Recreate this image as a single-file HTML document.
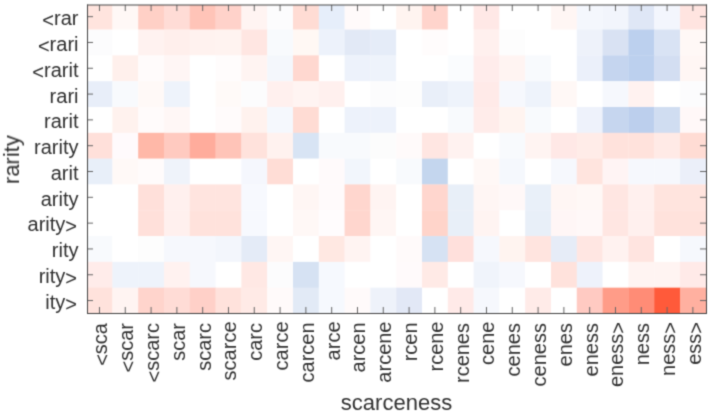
<!DOCTYPE html><html><head><meta charset="utf-8"><style>html,body{margin:0;padding:0;background:#fff;width:712px;height:413px;overflow:hidden}svg{display:block}text{font-family:"Liberation Sans",sans-serif;fill:#303030}</style></head><body>
<svg width="712" height="413" viewBox="0 0 712 413">
<defs><filter id="bl" x="0" y="0" width="712" height="413" filterUnits="userSpaceOnUse" color-interpolation-filters="sRGB"><feConvolveMatrix order="3" kernelMatrix="1 4 1 4 16 4 1 4 1" divisor="36" edgeMode="duplicate"/></filter></defs><g filter="url(#bl)">
<rect width="712" height="413" fill="#fff"/>
<clipPath id="cp"><rect x="87" y="5" width="620" height="309"/></clipPath><g clip-path="url(#cp)">
<rect x="86.58" y="3.75" width="26.10" height="26.11" fill="#ffe4de"/>
<rect x="112.38" y="3.75" width="26.10" height="26.11" fill="#fff8f6"/>
<rect x="138.18" y="3.75" width="26.10" height="26.11" fill="#ffd0c6"/>
<rect x="163.98" y="3.75" width="26.10" height="26.11" fill="#ffdcd6"/>
<rect x="189.78" y="3.75" width="26.10" height="26.11" fill="#ffc4b8"/>
<rect x="215.58" y="3.75" width="26.10" height="26.11" fill="#ffd2ca"/>
<rect x="241.38" y="3.75" width="26.10" height="26.11" fill="#fff4f2"/>
<rect x="267.18" y="3.75" width="26.10" height="26.11" fill="#fcfcfd"/>
<rect x="292.98" y="3.75" width="26.10" height="26.11" fill="#ffdcd4"/>
<rect x="318.78" y="3.75" width="26.10" height="26.11" fill="#e6eefa"/>
<rect x="344.58" y="3.75" width="26.10" height="26.11" fill="#fffafa"/>
<rect x="370.38" y="3.75" width="26.10" height="26.11" fill="#ffffff"/>
<rect x="396.18" y="3.75" width="26.10" height="26.11" fill="#fff4f0"/>
<rect x="421.98" y="3.75" width="26.10" height="26.11" fill="#ffd4cc"/>
<rect x="447.78" y="3.75" width="26.10" height="26.11" fill="#ffffff"/>
<rect x="473.58" y="3.75" width="26.10" height="26.11" fill="#ffe8e6"/>
<rect x="499.38" y="3.75" width="26.10" height="26.11" fill="#ffffff"/>
<rect x="525.18" y="3.75" width="26.10" height="26.11" fill="#ffffff"/>
<rect x="550.98" y="3.75" width="26.10" height="26.11" fill="#fff6f4"/>
<rect x="576.78" y="3.75" width="26.10" height="26.11" fill="#f4f7fd"/>
<rect x="602.58" y="3.75" width="26.10" height="26.11" fill="#f2f5fc"/>
<rect x="628.38" y="3.75" width="26.10" height="26.11" fill="#dfe7f6"/>
<rect x="654.18" y="3.75" width="26.10" height="26.11" fill="#f3f6fd"/>
<rect x="679.98" y="3.75" width="26.10" height="26.11" fill="#ffe4e0"/>
<rect x="86.58" y="29.56" width="26.10" height="26.11" fill="#fcfcfd"/>
<rect x="112.38" y="29.56" width="26.10" height="26.11" fill="#ffffff"/>
<rect x="138.18" y="29.56" width="26.10" height="26.11" fill="#fff2f0"/>
<rect x="163.98" y="29.56" width="26.10" height="26.11" fill="#ffefec"/>
<rect x="189.78" y="29.56" width="26.10" height="26.11" fill="#fff2ef"/>
<rect x="215.58" y="29.56" width="26.10" height="26.11" fill="#fff3f0"/>
<rect x="241.38" y="29.56" width="26.10" height="26.11" fill="#ffe6e2"/>
<rect x="267.18" y="29.56" width="26.10" height="26.11" fill="#f8fafd"/>
<rect x="292.98" y="29.56" width="26.10" height="26.11" fill="#fff8f4"/>
<rect x="318.78" y="29.56" width="26.10" height="26.11" fill="#edf2fb"/>
<rect x="344.58" y="29.56" width="26.10" height="26.11" fill="#e2e9f6"/>
<rect x="370.38" y="29.56" width="26.10" height="26.11" fill="#e5ecf8"/>
<rect x="396.18" y="29.56" width="26.10" height="26.11" fill="#ffffff"/>
<rect x="421.98" y="29.56" width="26.10" height="26.11" fill="#fffcfc"/>
<rect x="447.78" y="29.56" width="26.10" height="26.11" fill="#ffffff"/>
<rect x="473.58" y="29.56" width="26.10" height="26.11" fill="#fff0ee"/>
<rect x="499.38" y="29.56" width="26.10" height="26.11" fill="#fdfdfd"/>
<rect x="525.18" y="29.56" width="26.10" height="26.11" fill="#ffffff"/>
<rect x="550.98" y="29.56" width="26.10" height="26.11" fill="#ffffff"/>
<rect x="576.78" y="29.56" width="26.10" height="26.11" fill="#eef2fa"/>
<rect x="602.58" y="29.56" width="26.10" height="26.11" fill="#d9e2f3"/>
<rect x="628.38" y="29.56" width="26.10" height="26.11" fill="#bcd0ee"/>
<rect x="654.18" y="29.56" width="26.10" height="26.11" fill="#d9e3f4"/>
<rect x="679.98" y="29.56" width="26.10" height="26.11" fill="#fff8f6"/>
<rect x="86.58" y="55.37" width="26.10" height="26.11" fill="#ffffff"/>
<rect x="112.38" y="55.37" width="26.10" height="26.11" fill="#fff0ec"/>
<rect x="138.18" y="55.37" width="26.10" height="26.11" fill="#fffbfb"/>
<rect x="163.98" y="55.37" width="26.10" height="26.11" fill="#fff6f5"/>
<rect x="189.78" y="55.37" width="26.10" height="26.11" fill="#ffffff"/>
<rect x="215.58" y="55.37" width="26.10" height="26.11" fill="#fffcfc"/>
<rect x="241.38" y="55.37" width="26.10" height="26.11" fill="#fff4f2"/>
<rect x="267.18" y="55.37" width="26.10" height="26.11" fill="#f4f7fc"/>
<rect x="292.98" y="55.37" width="26.10" height="26.11" fill="#ffd8d0"/>
<rect x="318.78" y="55.37" width="26.10" height="26.11" fill="#ffffff"/>
<rect x="344.58" y="55.37" width="26.10" height="26.11" fill="#edf2fb"/>
<rect x="370.38" y="55.37" width="26.10" height="26.11" fill="#eef3fb"/>
<rect x="396.18" y="55.37" width="26.10" height="26.11" fill="#ffffff"/>
<rect x="421.98" y="55.37" width="26.10" height="26.11" fill="#ffffff"/>
<rect x="447.78" y="55.37" width="26.10" height="26.11" fill="#fafcfe"/>
<rect x="473.58" y="55.37" width="26.10" height="26.11" fill="#ffeceb"/>
<rect x="499.38" y="55.37" width="26.10" height="26.11" fill="#fff4f2"/>
<rect x="525.18" y="55.37" width="26.10" height="26.11" fill="#f8fafd"/>
<rect x="550.98" y="55.37" width="26.10" height="26.11" fill="#ffffff"/>
<rect x="576.78" y="55.37" width="26.10" height="26.11" fill="#ebf0fa"/>
<rect x="602.58" y="55.37" width="26.10" height="26.11" fill="#c5d5ef"/>
<rect x="628.38" y="55.37" width="26.10" height="26.11" fill="#bcd0ee"/>
<rect x="654.18" y="55.37" width="26.10" height="26.11" fill="#d3def2"/>
<rect x="679.98" y="55.37" width="26.10" height="26.11" fill="#fff6f4"/>
<rect x="86.58" y="81.18" width="26.10" height="26.11" fill="#e8eef9"/>
<rect x="112.38" y="81.18" width="26.10" height="26.11" fill="#f8fafd"/>
<rect x="138.18" y="81.18" width="26.10" height="26.11" fill="#fff9f7"/>
<rect x="163.98" y="81.18" width="26.10" height="26.11" fill="#eef3fb"/>
<rect x="189.78" y="81.18" width="26.10" height="26.11" fill="#ffffff"/>
<rect x="215.58" y="81.18" width="26.10" height="26.11" fill="#fffaf8"/>
<rect x="241.38" y="81.18" width="26.10" height="26.11" fill="#fcfcfd"/>
<rect x="267.18" y="81.18" width="26.10" height="26.11" fill="#fff0ee"/>
<rect x="292.98" y="81.18" width="26.10" height="26.11" fill="#fff4f2"/>
<rect x="318.78" y="81.18" width="26.10" height="26.11" fill="#fff0ee"/>
<rect x="344.58" y="81.18" width="26.10" height="26.11" fill="#ffffff"/>
<rect x="370.38" y="81.18" width="26.10" height="26.11" fill="#fcfcfd"/>
<rect x="396.18" y="81.18" width="26.10" height="26.11" fill="#fdfdfd"/>
<rect x="421.98" y="81.18" width="26.10" height="26.11" fill="#e9eff9"/>
<rect x="447.78" y="81.18" width="26.10" height="26.11" fill="#eef3fb"/>
<rect x="473.58" y="81.18" width="26.10" height="26.11" fill="#ffeae8"/>
<rect x="499.38" y="81.18" width="26.10" height="26.11" fill="#f6f8fd"/>
<rect x="525.18" y="81.18" width="26.10" height="26.11" fill="#eef3fb"/>
<rect x="550.98" y="81.18" width="26.10" height="26.11" fill="#fff8f6"/>
<rect x="576.78" y="81.18" width="26.10" height="26.11" fill="#ffffff"/>
<rect x="602.58" y="81.18" width="26.10" height="26.11" fill="#f6f8fd"/>
<rect x="628.38" y="81.18" width="26.10" height="26.11" fill="#fff2f0"/>
<rect x="654.18" y="81.18" width="26.10" height="26.11" fill="#ffffff"/>
<rect x="679.98" y="81.18" width="26.10" height="26.11" fill="#fcfcfd"/>
<rect x="86.58" y="106.99" width="26.10" height="26.11" fill="#ffffff"/>
<rect x="112.38" y="106.99" width="26.10" height="26.11" fill="#fff2ee"/>
<rect x="138.18" y="106.99" width="26.10" height="26.11" fill="#fffbfb"/>
<rect x="163.98" y="106.99" width="26.10" height="26.11" fill="#fff7f6"/>
<rect x="189.78" y="106.99" width="26.10" height="26.11" fill="#ffffff"/>
<rect x="215.58" y="106.99" width="26.10" height="26.11" fill="#fffbfb"/>
<rect x="241.38" y="106.99" width="26.10" height="26.11" fill="#fff2ee"/>
<rect x="267.18" y="106.99" width="26.10" height="26.11" fill="#f5f8fd"/>
<rect x="292.98" y="106.99" width="26.10" height="26.11" fill="#ffdcd4"/>
<rect x="318.78" y="106.99" width="26.10" height="26.11" fill="#ffffff"/>
<rect x="344.58" y="106.99" width="26.10" height="26.11" fill="#edf2fb"/>
<rect x="370.38" y="106.99" width="26.10" height="26.11" fill="#edf2fb"/>
<rect x="396.18" y="106.99" width="26.10" height="26.11" fill="#ffffff"/>
<rect x="421.98" y="106.99" width="26.10" height="26.11" fill="#ffffff"/>
<rect x="447.78" y="106.99" width="26.10" height="26.11" fill="#f8fafd"/>
<rect x="473.58" y="106.99" width="26.10" height="26.11" fill="#ffecea"/>
<rect x="499.38" y="106.99" width="26.10" height="26.11" fill="#fff4f0"/>
<rect x="525.18" y="106.99" width="26.10" height="26.11" fill="#f8fafd"/>
<rect x="550.98" y="106.99" width="26.10" height="26.11" fill="#ffffff"/>
<rect x="576.78" y="106.99" width="26.10" height="26.11" fill="#eef2fb"/>
<rect x="602.58" y="106.99" width="26.10" height="26.11" fill="#c6d6ef"/>
<rect x="628.38" y="106.99" width="26.10" height="26.11" fill="#bccfed"/>
<rect x="654.18" y="106.99" width="26.10" height="26.11" fill="#d0ddf1"/>
<rect x="679.98" y="106.99" width="26.10" height="26.11" fill="#fff8f8"/>
<rect x="86.58" y="132.80" width="26.10" height="26.11" fill="#ffe0da"/>
<rect x="112.38" y="132.80" width="26.10" height="26.11" fill="#fffafc"/>
<rect x="138.18" y="132.80" width="26.10" height="26.11" fill="#ffb8a8"/>
<rect x="163.98" y="132.80" width="26.10" height="26.11" fill="#ffcac0"/>
<rect x="189.78" y="132.80" width="26.10" height="26.11" fill="#ffac9c"/>
<rect x="215.58" y="132.80" width="26.10" height="26.11" fill="#ffc4b8"/>
<rect x="241.38" y="132.80" width="26.10" height="26.11" fill="#ffe2dc"/>
<rect x="267.18" y="132.80" width="26.10" height="26.11" fill="#fff2ef"/>
<rect x="292.98" y="132.80" width="26.10" height="26.11" fill="#d8e4f4"/>
<rect x="318.78" y="132.80" width="26.10" height="26.11" fill="#f8fafd"/>
<rect x="344.58" y="132.80" width="26.10" height="26.11" fill="#f8fafd"/>
<rect x="370.38" y="132.80" width="26.10" height="26.11" fill="#fcfcfc"/>
<rect x="396.18" y="132.80" width="26.10" height="26.11" fill="#fffafa"/>
<rect x="421.98" y="132.80" width="26.10" height="26.11" fill="#ffe6e2"/>
<rect x="447.78" y="132.80" width="26.10" height="26.11" fill="#fff2f0"/>
<rect x="473.58" y="132.80" width="26.10" height="26.11" fill="#ffffff"/>
<rect x="499.38" y="132.80" width="26.10" height="26.11" fill="#f8fafd"/>
<rect x="525.18" y="132.80" width="26.10" height="26.11" fill="#fff4f2"/>
<rect x="550.98" y="132.80" width="26.10" height="26.11" fill="#ffe8e6"/>
<rect x="576.78" y="132.80" width="26.10" height="26.11" fill="#ffece8"/>
<rect x="602.58" y="132.80" width="26.10" height="26.11" fill="#ffe2dc"/>
<rect x="628.38" y="132.80" width="26.10" height="26.11" fill="#ffe2dc"/>
<rect x="654.18" y="132.80" width="26.10" height="26.11" fill="#ffeae6"/>
<rect x="679.98" y="132.80" width="26.10" height="26.11" fill="#ffdcd4"/>
<rect x="86.58" y="158.61" width="26.10" height="26.11" fill="#e8eff9"/>
<rect x="112.38" y="158.61" width="26.10" height="26.11" fill="#fff9f7"/>
<rect x="138.18" y="158.61" width="26.10" height="26.11" fill="#fffbfb"/>
<rect x="163.98" y="158.61" width="26.10" height="26.11" fill="#eff3fa"/>
<rect x="189.78" y="158.61" width="26.10" height="26.11" fill="#ffffff"/>
<rect x="215.58" y="158.61" width="26.10" height="26.11" fill="#ffffff"/>
<rect x="241.38" y="158.61" width="26.10" height="26.11" fill="#f5f7fd"/>
<rect x="267.18" y="158.61" width="26.10" height="26.11" fill="#ffddd6"/>
<rect x="292.98" y="158.61" width="26.10" height="26.11" fill="#ffffff"/>
<rect x="318.78" y="158.61" width="26.10" height="26.11" fill="#fffafb"/>
<rect x="344.58" y="158.61" width="26.10" height="26.11" fill="#f2f6fc"/>
<rect x="370.38" y="158.61" width="26.10" height="26.11" fill="#ffffff"/>
<rect x="396.18" y="158.61" width="26.10" height="26.11" fill="#f8fafd"/>
<rect x="421.98" y="158.61" width="26.10" height="26.11" fill="#c4d6ee"/>
<rect x="447.78" y="158.61" width="26.10" height="26.11" fill="#ffffff"/>
<rect x="473.58" y="158.61" width="26.10" height="26.11" fill="#fff8f6"/>
<rect x="499.38" y="158.61" width="26.10" height="26.11" fill="#f5f8fd"/>
<rect x="525.18" y="158.61" width="26.10" height="26.11" fill="#ffffff"/>
<rect x="550.98" y="158.61" width="26.10" height="26.11" fill="#f6f8fd"/>
<rect x="576.78" y="158.61" width="26.10" height="26.11" fill="#ffe4de"/>
<rect x="602.58" y="158.61" width="26.10" height="26.11" fill="#fff4f4"/>
<rect x="628.38" y="158.61" width="26.10" height="26.11" fill="#f6f8fd"/>
<rect x="654.18" y="158.61" width="26.10" height="26.11" fill="#f6f8fd"/>
<rect x="679.98" y="158.61" width="26.10" height="26.11" fill="#ebeff9"/>
<rect x="86.58" y="184.42" width="26.10" height="26.11" fill="#ffffff"/>
<rect x="112.38" y="184.42" width="26.10" height="26.11" fill="#ffffff"/>
<rect x="138.18" y="184.42" width="26.10" height="26.11" fill="#ffe0da"/>
<rect x="163.98" y="184.42" width="26.10" height="26.11" fill="#fff0ee"/>
<rect x="189.78" y="184.42" width="26.10" height="26.11" fill="#ffe4df"/>
<rect x="215.58" y="184.42" width="26.10" height="26.11" fill="#ffe4df"/>
<rect x="241.38" y="184.42" width="26.10" height="26.11" fill="#f7f9fe"/>
<rect x="267.18" y="184.42" width="26.10" height="26.11" fill="#ffffff"/>
<rect x="292.98" y="184.42" width="26.10" height="26.11" fill="#fff6f4"/>
<rect x="318.78" y="184.42" width="26.10" height="26.11" fill="#fffafb"/>
<rect x="344.58" y="184.42" width="26.10" height="26.11" fill="#ffd6ce"/>
<rect x="370.38" y="184.42" width="26.10" height="26.11" fill="#fff4f2"/>
<rect x="396.18" y="184.42" width="26.10" height="26.11" fill="#ffffff"/>
<rect x="421.98" y="184.42" width="26.10" height="26.11" fill="#ffd6ce"/>
<rect x="447.78" y="184.42" width="26.10" height="26.11" fill="#e8eff8"/>
<rect x="473.58" y="184.42" width="26.10" height="26.11" fill="#fff6f4"/>
<rect x="499.38" y="184.42" width="26.10" height="26.11" fill="#fff8f8"/>
<rect x="525.18" y="184.42" width="26.10" height="26.11" fill="#e9f0f9"/>
<rect x="550.98" y="184.42" width="26.10" height="26.11" fill="#fff6f4"/>
<rect x="576.78" y="184.42" width="26.10" height="26.11" fill="#fff8f6"/>
<rect x="602.58" y="184.42" width="26.10" height="26.11" fill="#ffe6e2"/>
<rect x="628.38" y="184.42" width="26.10" height="26.11" fill="#fff0ee"/>
<rect x="654.18" y="184.42" width="26.10" height="26.11" fill="#ffe4de"/>
<rect x="679.98" y="184.42" width="26.10" height="26.11" fill="#ffe4de"/>
<rect x="86.58" y="210.23" width="26.10" height="26.11" fill="#ffffff"/>
<rect x="112.38" y="210.23" width="26.10" height="26.11" fill="#ffffff"/>
<rect x="138.18" y="210.23" width="26.10" height="26.11" fill="#ffe0da"/>
<rect x="163.98" y="210.23" width="26.10" height="26.11" fill="#fff0ee"/>
<rect x="189.78" y="210.23" width="26.10" height="26.11" fill="#ffe2dc"/>
<rect x="215.58" y="210.23" width="26.10" height="26.11" fill="#ffe2dc"/>
<rect x="241.38" y="210.23" width="26.10" height="26.11" fill="#f7f9fe"/>
<rect x="267.18" y="210.23" width="26.10" height="26.11" fill="#ffffff"/>
<rect x="292.98" y="210.23" width="26.10" height="26.11" fill="#fff8f6"/>
<rect x="318.78" y="210.23" width="26.10" height="26.11" fill="#fffcfd"/>
<rect x="344.58" y="210.23" width="26.10" height="26.11" fill="#ffd6ce"/>
<rect x="370.38" y="210.23" width="26.10" height="26.11" fill="#fff6f4"/>
<rect x="396.18" y="210.23" width="26.10" height="26.11" fill="#ffffff"/>
<rect x="421.98" y="210.23" width="26.10" height="26.11" fill="#ffd4ca"/>
<rect x="447.78" y="210.23" width="26.10" height="26.11" fill="#e8eff8"/>
<rect x="473.58" y="210.23" width="26.10" height="26.11" fill="#fff4f2"/>
<rect x="499.38" y="210.23" width="26.10" height="26.11" fill="#ffffff"/>
<rect x="525.18" y="210.23" width="26.10" height="26.11" fill="#e8eff8"/>
<rect x="550.98" y="210.23" width="26.10" height="26.11" fill="#fff6f6"/>
<rect x="576.78" y="210.23" width="26.10" height="26.11" fill="#fff8f8"/>
<rect x="602.58" y="210.23" width="26.10" height="26.11" fill="#ffe6e2"/>
<rect x="628.38" y="210.23" width="26.10" height="26.11" fill="#fff0ee"/>
<rect x="654.18" y="210.23" width="26.10" height="26.11" fill="#ffe2dc"/>
<rect x="679.98" y="210.23" width="26.10" height="26.11" fill="#ffe2dc"/>
<rect x="86.58" y="236.04" width="26.10" height="26.11" fill="#f8fafd"/>
<rect x="112.38" y="236.04" width="26.10" height="26.11" fill="#ffffff"/>
<rect x="138.18" y="236.04" width="26.10" height="26.11" fill="#fdfdfd"/>
<rect x="163.98" y="236.04" width="26.10" height="26.11" fill="#f6f8fd"/>
<rect x="189.78" y="236.04" width="26.10" height="26.11" fill="#f6f8fd"/>
<rect x="215.58" y="236.04" width="26.10" height="26.11" fill="#f3f6fc"/>
<rect x="241.38" y="236.04" width="26.10" height="26.11" fill="#e4ebf7"/>
<rect x="267.18" y="236.04" width="26.10" height="26.11" fill="#fff6f4"/>
<rect x="292.98" y="236.04" width="26.10" height="26.11" fill="#ffffff"/>
<rect x="318.78" y="236.04" width="26.10" height="26.11" fill="#ffe8e2"/>
<rect x="344.58" y="236.04" width="26.10" height="26.11" fill="#fff4f2"/>
<rect x="370.38" y="236.04" width="26.10" height="26.11" fill="#ffffff"/>
<rect x="396.18" y="236.04" width="26.10" height="26.11" fill="#fffafa"/>
<rect x="421.98" y="236.04" width="26.10" height="26.11" fill="#d6e2f3"/>
<rect x="447.78" y="236.04" width="26.10" height="26.11" fill="#ffe0dc"/>
<rect x="473.58" y="236.04" width="26.10" height="26.11" fill="#f6f8fd"/>
<rect x="499.38" y="236.04" width="26.10" height="26.11" fill="#fff4f0"/>
<rect x="525.18" y="236.04" width="26.10" height="26.11" fill="#ffe4df"/>
<rect x="550.98" y="236.04" width="26.10" height="26.11" fill="#e6ecf7"/>
<rect x="576.78" y="236.04" width="26.10" height="26.11" fill="#ffe6e2"/>
<rect x="602.58" y="236.04" width="26.10" height="26.11" fill="#fff2f0"/>
<rect x="628.38" y="236.04" width="26.10" height="26.11" fill="#ffe4e0"/>
<rect x="654.18" y="236.04" width="26.10" height="26.11" fill="#ffffff"/>
<rect x="679.98" y="236.04" width="26.10" height="26.11" fill="#f6f8fd"/>
<rect x="86.58" y="261.85" width="26.10" height="26.11" fill="#ffecea"/>
<rect x="112.38" y="261.85" width="26.10" height="26.11" fill="#eef3fb"/>
<rect x="138.18" y="261.85" width="26.10" height="26.11" fill="#eef3fb"/>
<rect x="163.98" y="261.85" width="26.10" height="26.11" fill="#fff2f0"/>
<rect x="189.78" y="261.85" width="26.10" height="26.11" fill="#f6f8fd"/>
<rect x="215.58" y="261.85" width="26.10" height="26.11" fill="#ffffff"/>
<rect x="241.38" y="261.85" width="26.10" height="26.11" fill="#ffe8e4"/>
<rect x="267.18" y="261.85" width="26.10" height="26.11" fill="#fcfcfd"/>
<rect x="292.98" y="261.85" width="26.10" height="26.11" fill="#d6e2f3"/>
<rect x="318.78" y="261.85" width="26.10" height="26.11" fill="#f6f9fe"/>
<rect x="344.58" y="261.85" width="26.10" height="26.11" fill="#ffffff"/>
<rect x="370.38" y="261.85" width="26.10" height="26.11" fill="#ffffff"/>
<rect x="396.18" y="261.85" width="26.10" height="26.11" fill="#fffafb"/>
<rect x="421.98" y="261.85" width="26.10" height="26.11" fill="#ffeae6"/>
<rect x="447.78" y="261.85" width="26.10" height="26.11" fill="#ffffff"/>
<rect x="473.58" y="261.85" width="26.10" height="26.11" fill="#f0f4fb"/>
<rect x="499.38" y="261.85" width="26.10" height="26.11" fill="#f6f8fd"/>
<rect x="525.18" y="261.85" width="26.10" height="26.11" fill="#ffffff"/>
<rect x="550.98" y="261.85" width="26.10" height="26.11" fill="#ffe2dc"/>
<rect x="576.78" y="261.85" width="26.10" height="26.11" fill="#eef2fb"/>
<rect x="602.58" y="261.85" width="26.10" height="26.11" fill="#ffffff"/>
<rect x="628.38" y="261.85" width="26.10" height="26.11" fill="#fff4f2"/>
<rect x="654.18" y="261.85" width="26.10" height="26.11" fill="#fff4f2"/>
<rect x="679.98" y="261.85" width="26.10" height="26.11" fill="#ffeae8"/>
<rect x="86.58" y="287.66" width="26.10" height="26.11" fill="#ffe2dc"/>
<rect x="112.38" y="287.66" width="26.10" height="26.11" fill="#fff4f2"/>
<rect x="138.18" y="287.66" width="26.10" height="26.11" fill="#ffd4cc"/>
<rect x="163.98" y="287.66" width="26.10" height="26.11" fill="#ffdcd6"/>
<rect x="189.78" y="287.66" width="26.10" height="26.11" fill="#ffd0c8"/>
<rect x="215.58" y="287.66" width="26.10" height="26.11" fill="#ffe2dc"/>
<rect x="241.38" y="287.66" width="26.10" height="26.11" fill="#ffeae6"/>
<rect x="267.18" y="287.66" width="26.10" height="26.11" fill="#fffafa"/>
<rect x="292.98" y="287.66" width="26.10" height="26.11" fill="#e2eaf6"/>
<rect x="318.78" y="287.66" width="26.10" height="26.11" fill="#f6f9fe"/>
<rect x="344.58" y="287.66" width="26.10" height="26.11" fill="#fffafa"/>
<rect x="370.38" y="287.66" width="26.10" height="26.11" fill="#eef2fa"/>
<rect x="396.18" y="287.66" width="26.10" height="26.11" fill="#e2e8f6"/>
<rect x="421.98" y="287.66" width="26.10" height="26.11" fill="#ffffff"/>
<rect x="447.78" y="287.66" width="26.10" height="26.11" fill="#ffeae8"/>
<rect x="473.58" y="287.66" width="26.10" height="26.11" fill="#f6f8fd"/>
<rect x="499.38" y="287.66" width="26.10" height="26.11" fill="#ffffff"/>
<rect x="525.18" y="287.66" width="26.10" height="26.11" fill="#ffebe8"/>
<rect x="550.98" y="287.66" width="26.10" height="26.11" fill="#ffffff"/>
<rect x="576.78" y="287.66" width="26.10" height="26.11" fill="#ffcac2"/>
<rect x="602.58" y="287.66" width="26.10" height="26.11" fill="#ff9c88"/>
<rect x="628.38" y="287.66" width="26.10" height="26.11" fill="#ff8c76"/>
<rect x="654.18" y="287.66" width="26.10" height="26.11" fill="#ff5a3a"/>
<rect x="679.98" y="287.66" width="26.10" height="26.11" fill="#ffb0a0"/>
</g>
<line x1="99.48" y1="5" x2="99.48" y2="11" stroke="#666" stroke-width="1"/>
<line x1="99.48" y1="313" x2="99.48" y2="307" stroke="#666" stroke-width="1"/>
<line x1="125.28" y1="5" x2="125.28" y2="11" stroke="#666" stroke-width="1"/>
<line x1="125.28" y1="313" x2="125.28" y2="307" stroke="#666" stroke-width="1"/>
<line x1="151.08" y1="5" x2="151.08" y2="11" stroke="#666" stroke-width="1"/>
<line x1="151.08" y1="313" x2="151.08" y2="307" stroke="#666" stroke-width="1"/>
<line x1="176.88" y1="5" x2="176.88" y2="11" stroke="#666" stroke-width="1"/>
<line x1="176.88" y1="313" x2="176.88" y2="307" stroke="#666" stroke-width="1"/>
<line x1="202.68" y1="5" x2="202.68" y2="11" stroke="#666" stroke-width="1"/>
<line x1="202.68" y1="313" x2="202.68" y2="307" stroke="#666" stroke-width="1"/>
<line x1="228.48" y1="5" x2="228.48" y2="11" stroke="#666" stroke-width="1"/>
<line x1="228.48" y1="313" x2="228.48" y2="307" stroke="#666" stroke-width="1"/>
<line x1="254.28" y1="5" x2="254.28" y2="11" stroke="#666" stroke-width="1"/>
<line x1="254.28" y1="313" x2="254.28" y2="307" stroke="#666" stroke-width="1"/>
<line x1="280.08" y1="5" x2="280.08" y2="11" stroke="#666" stroke-width="1"/>
<line x1="280.08" y1="313" x2="280.08" y2="307" stroke="#666" stroke-width="1"/>
<line x1="305.88" y1="5" x2="305.88" y2="11" stroke="#666" stroke-width="1"/>
<line x1="305.88" y1="313" x2="305.88" y2="307" stroke="#666" stroke-width="1"/>
<line x1="331.68" y1="5" x2="331.68" y2="11" stroke="#666" stroke-width="1"/>
<line x1="331.68" y1="313" x2="331.68" y2="307" stroke="#666" stroke-width="1"/>
<line x1="357.48" y1="5" x2="357.48" y2="11" stroke="#666" stroke-width="1"/>
<line x1="357.48" y1="313" x2="357.48" y2="307" stroke="#666" stroke-width="1"/>
<line x1="383.28" y1="5" x2="383.28" y2="11" stroke="#666" stroke-width="1"/>
<line x1="383.28" y1="313" x2="383.28" y2="307" stroke="#666" stroke-width="1"/>
<line x1="409.08" y1="5" x2="409.08" y2="11" stroke="#666" stroke-width="1"/>
<line x1="409.08" y1="313" x2="409.08" y2="307" stroke="#666" stroke-width="1"/>
<line x1="434.88" y1="5" x2="434.88" y2="11" stroke="#666" stroke-width="1"/>
<line x1="434.88" y1="313" x2="434.88" y2="307" stroke="#666" stroke-width="1"/>
<line x1="460.68" y1="5" x2="460.68" y2="11" stroke="#666" stroke-width="1"/>
<line x1="460.68" y1="313" x2="460.68" y2="307" stroke="#666" stroke-width="1"/>
<line x1="486.48" y1="5" x2="486.48" y2="11" stroke="#666" stroke-width="1"/>
<line x1="486.48" y1="313" x2="486.48" y2="307" stroke="#666" stroke-width="1"/>
<line x1="512.28" y1="5" x2="512.28" y2="11" stroke="#666" stroke-width="1"/>
<line x1="512.28" y1="313" x2="512.28" y2="307" stroke="#666" stroke-width="1"/>
<line x1="538.08" y1="5" x2="538.08" y2="11" stroke="#666" stroke-width="1"/>
<line x1="538.08" y1="313" x2="538.08" y2="307" stroke="#666" stroke-width="1"/>
<line x1="563.88" y1="5" x2="563.88" y2="11" stroke="#666" stroke-width="1"/>
<line x1="563.88" y1="313" x2="563.88" y2="307" stroke="#666" stroke-width="1"/>
<line x1="589.68" y1="5" x2="589.68" y2="11" stroke="#666" stroke-width="1"/>
<line x1="589.68" y1="313" x2="589.68" y2="307" stroke="#666" stroke-width="1"/>
<line x1="615.48" y1="5" x2="615.48" y2="11" stroke="#666" stroke-width="1"/>
<line x1="615.48" y1="313" x2="615.48" y2="307" stroke="#666" stroke-width="1"/>
<line x1="641.28" y1="5" x2="641.28" y2="11" stroke="#666" stroke-width="1"/>
<line x1="641.28" y1="313" x2="641.28" y2="307" stroke="#666" stroke-width="1"/>
<line x1="667.08" y1="5" x2="667.08" y2="11" stroke="#666" stroke-width="1"/>
<line x1="667.08" y1="313" x2="667.08" y2="307" stroke="#666" stroke-width="1"/>
<line x1="692.88" y1="5" x2="692.88" y2="11" stroke="#666" stroke-width="1"/>
<line x1="692.88" y1="313" x2="692.88" y2="307" stroke="#666" stroke-width="1"/>
<line x1="87" y1="16.66" x2="93" y2="16.66" stroke="#666" stroke-width="1"/>
<line x1="706" y1="16.66" x2="700" y2="16.66" stroke="#666" stroke-width="1"/>
<line x1="87" y1="42.46" x2="93" y2="42.46" stroke="#666" stroke-width="1"/>
<line x1="706" y1="42.46" x2="700" y2="42.46" stroke="#666" stroke-width="1"/>
<line x1="87" y1="68.27" x2="93" y2="68.27" stroke="#666" stroke-width="1"/>
<line x1="706" y1="68.27" x2="700" y2="68.27" stroke="#666" stroke-width="1"/>
<line x1="87" y1="94.08" x2="93" y2="94.08" stroke="#666" stroke-width="1"/>
<line x1="706" y1="94.08" x2="700" y2="94.08" stroke="#666" stroke-width="1"/>
<line x1="87" y1="119.89" x2="93" y2="119.89" stroke="#666" stroke-width="1"/>
<line x1="706" y1="119.89" x2="700" y2="119.89" stroke="#666" stroke-width="1"/>
<line x1="87" y1="145.70" x2="93" y2="145.70" stroke="#666" stroke-width="1"/>
<line x1="706" y1="145.70" x2="700" y2="145.70" stroke="#666" stroke-width="1"/>
<line x1="87" y1="171.51" x2="93" y2="171.51" stroke="#666" stroke-width="1"/>
<line x1="706" y1="171.51" x2="700" y2="171.51" stroke="#666" stroke-width="1"/>
<line x1="87" y1="197.32" x2="93" y2="197.32" stroke="#666" stroke-width="1"/>
<line x1="706" y1="197.32" x2="700" y2="197.32" stroke="#666" stroke-width="1"/>
<line x1="87" y1="223.13" x2="93" y2="223.13" stroke="#666" stroke-width="1"/>
<line x1="706" y1="223.13" x2="700" y2="223.13" stroke="#666" stroke-width="1"/>
<line x1="87" y1="248.94" x2="93" y2="248.94" stroke="#666" stroke-width="1"/>
<line x1="706" y1="248.94" x2="700" y2="248.94" stroke="#666" stroke-width="1"/>
<line x1="87" y1="274.75" x2="93" y2="274.75" stroke="#666" stroke-width="1"/>
<line x1="706" y1="274.75" x2="700" y2="274.75" stroke="#666" stroke-width="1"/>
<line x1="87" y1="300.56" x2="93" y2="300.56" stroke="#666" stroke-width="1"/>
<line x1="706" y1="300.56" x2="700" y2="300.56" stroke="#666" stroke-width="1"/>
<line x1="87.0" y1="5.0" x2="707.0" y2="5.0" stroke="#444" stroke-width="1"/>
<line x1="87.0" y1="313.5" x2="707.0" y2="313.5" stroke="#444" stroke-width="1"/>
<line x1="87.5" y1="4.5" x2="87.5" y2="314.0" stroke="#444" stroke-width="1"/>
<line x1="706.5" y1="4.5" x2="706.5" y2="314.0" stroke="#444" stroke-width="1"/>
<text x="78.5" y="25.40" font-size="20" text-anchor="end"><tspan dy="1.8">&lt;</tspan><tspan dy="-1.8">rar</tspan></text>
<text x="78.5" y="51.16" font-size="20" text-anchor="end"><tspan dy="1.8">&lt;</tspan><tspan dy="-1.8">rari</tspan></text>
<text x="78.5" y="76.92" font-size="20" text-anchor="end"><tspan dy="1.8">&lt;</tspan><tspan dy="-1.8">rarit</tspan></text>
<text x="78.5" y="102.67" font-size="20" text-anchor="end">rari</text>
<text x="78.5" y="128.43" font-size="20" text-anchor="end">rarit</text>
<text x="78.5" y="154.19" font-size="20" text-anchor="end">rarity</text>
<text x="78.5" y="179.95" font-size="20" text-anchor="end">arit</text>
<text x="78.5" y="205.71" font-size="20" text-anchor="end">arity</text>
<text x="77.0" y="231.46" font-size="20" text-anchor="end">arity<tspan dy="1.8">&gt;</tspan></text>
<text x="78.5" y="257.22" font-size="20" text-anchor="end">rity</text>
<text x="77.0" y="282.98" font-size="20" text-anchor="end">rity<tspan dy="1.8">&gt;</tspan></text>
<text x="77.0" y="308.74" font-size="20" text-anchor="end">ity<tspan dy="1.8">&gt;</tspan></text>
<text transform="translate(107.48,323.0) rotate(-90)" font-size="20" text-anchor="end"><tspan dy="2.0">&lt;</tspan><tspan dy="-2.0">sca</tspan></text>
<text transform="translate(133.28,323.0) rotate(-90)" font-size="20" text-anchor="end"><tspan dy="2.0">&lt;</tspan><tspan dy="-2.0">scar</tspan></text>
<text transform="translate(159.08,323.0) rotate(-90)" font-size="20" text-anchor="end"><tspan dy="2.0">&lt;</tspan><tspan dy="-2.0">scarc</tspan></text>
<text transform="translate(184.88,323.0) rotate(-90)" font-size="20" text-anchor="end">scar</text>
<text transform="translate(210.68,323.0) rotate(-90)" font-size="20" text-anchor="end">scarc</text>
<text transform="translate(236.48,321.5) rotate(-90)" font-size="20" text-anchor="end">scarce</text>
<text transform="translate(262.28,323.0) rotate(-90)" font-size="20" text-anchor="end">carc</text>
<text transform="translate(288.08,321.5) rotate(-90)" font-size="20" text-anchor="end">carce</text>
<text transform="translate(313.88,322.4) rotate(-90)" font-size="20" text-anchor="end">carcen</text>
<text transform="translate(339.68,321.5) rotate(-90)" font-size="20" text-anchor="end">arce</text>
<text transform="translate(365.48,322.4) rotate(-90)" font-size="20" text-anchor="end">arcen</text>
<text transform="translate(391.28,321.5) rotate(-90)" font-size="20" text-anchor="end">arcene</text>
<text transform="translate(417.08,322.4) rotate(-90)" font-size="20" text-anchor="end">rcen</text>
<text transform="translate(442.88,321.5) rotate(-90)" font-size="20" text-anchor="end">rcene</text>
<text transform="translate(468.68,323.0) rotate(-90)" font-size="20" text-anchor="end">rcenes</text>
<text transform="translate(494.48,321.5) rotate(-90)" font-size="20" text-anchor="end">cene</text>
<text transform="translate(520.28,323.0) rotate(-90)" font-size="20" text-anchor="end">cenes</text>
<text transform="translate(546.08,323.0) rotate(-90)" font-size="20" text-anchor="end">ceness</text>
<text transform="translate(571.88,323.0) rotate(-90)" font-size="20" text-anchor="end">enes</text>
<text transform="translate(597.68,323.0) rotate(-90)" font-size="20" text-anchor="end">eness</text>
<text transform="translate(623.48,322.0) rotate(-90)" font-size="20" text-anchor="end">eness<tspan dy="2.0">&gt;</tspan></text>
<text transform="translate(649.28,323.0) rotate(-90)" font-size="20" text-anchor="end">ness</text>
<text transform="translate(675.08,322.0) rotate(-90)" font-size="20" text-anchor="end">ness<tspan dy="2.0">&gt;</tspan></text>
<text transform="translate(700.88,322.0) rotate(-90)" font-size="20" text-anchor="end">ess<tspan dy="2.0">&gt;</tspan></text>
<text x="396.5" y="410" font-size="22" text-anchor="middle">scarceness</text>
<text transform="translate(19,159.6) rotate(-90)" font-size="22" text-anchor="middle">rarity</text>
</g></svg></body></html>
